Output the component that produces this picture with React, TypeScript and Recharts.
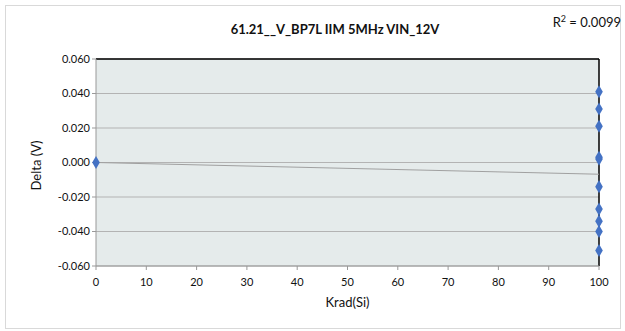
import { ComposedChart, Scatter, Line, XAxis, YAxis, ZAxis, CartesianGrid, ReferenceLine } from "recharts";

const doseKrad = [0, 100, 100, 100, 100, 100, 100, 100, 100, 100, 100];
const deltaV = [0.0, 0.041, 0.031, 0.021, 0.003, 0.002, -0.014, -0.027, -0.034, -0.04, -0.051];
const xTicks = [0, 10, 20, 30, 40, 50, 60, 70, 80, 90, 100];
const yTicks = [-0.06, -0.04, -0.02, 0, 0.02, 0.04, 0.06];

const points = doseKrad.map((x, i) => ({ x, y: deltaV[i] }));

// least squares trendline through the points
const n = points.length;
const mx = doseKrad.reduce((a, b) => a + b, 0) / n;
const my = deltaV.reduce((a, b) => a + b, 0) / n;
let sxy = 0;
let sxx = 0;
points.forEach((p) => {
  sxy += (p.x - mx) * (p.y - my);
  sxx += (p.x - mx) * (p.x - mx);
});
const slope = sxy / sxx;
const icpt = my - slope * mx;
const trend = [0, 100].map((x) => ({ x, t: icpt + slope * x }));

const FONT = "Lato, 'Open Sans', sans-serif";

export default function App() {
  return (
    <div style={{ position: "absolute", left: 0, top: 0, width: 625, height: 331, background: "#fff", fontFamily: FONT }}>
      <div style={{ position: "absolute", left: 5, top: 5, width: 614, height: 322, border: "1px solid #d9d9d9" }} />
      <div style={{ position: "absolute", left: 0, width: 670, top: 21, textAlign: "center", fontSize: 13, fontWeight: 700, color: "#111" }}>
        61.21__V_BP7L IIM 5MHz VIN_12V
      </div>
      <div style={{ position: "absolute", right: 4, top: 13, fontSize: 13, color: "#111" }}>
        R<sup style={{ fontSize: 9 }}>2</sup> = 0.0099
      </div>
      <div style={{ position: "absolute", left: 0, top: 0 }}>
        <ComposedChart width={625} height={331} margin={{ top: 59, right: 26, bottom: 37, left: 36 }}>
          <CartesianGrid fill="#e5ebeb" stroke="#b3b3b3" vertical={false} />
          <XAxis
            dataKey="x"
            type="number"
            domain={[0, 100]}
            ticks={xTicks}
            tick={{ fontSize: 11, fill: "#111", fontFamily: FONT }}
            tickSize={4}
            tickMargin={8}
            stroke="#999"
            height={28}
            label={{ value: "Krad(Si)", position: "insideBottom", offset: -13, fontSize: 13, fill: "#111", fontFamily: FONT }}
          />
          <YAxis
            dataKey="y"
            type="number"
            domain={[-0.06, 0.06]}
            ticks={yTicks}
            tickFormatter={(v: number) => v.toFixed(3)}
            tick={{ fontSize: 11, fill: "#111", fontFamily: FONT }}
            tickSize={4}
            stroke="#999"
            width={60}
            label={{ value: "Delta (V)", angle: -90, position: "insideLeft", offset: 0, dx: 0, dy: 28, fontSize: 13, fill: "#111", fontFamily: FONT }}
          />
          <ZAxis range={[50, 50]} />
          <ReferenceLine y={0.06} stroke="#000" strokeWidth={1.5} />
          <ReferenceLine x={100} stroke="#000" strokeWidth={1.5} />
          <Line data={trend} dataKey="t" stroke="#a0a0a0" strokeWidth={1} dot={false} isAnimationActive={false} />
          <Scatter data={points} fill="#4472c4" shape="diamond" isAnimationActive={false} />
        </ComposedChart>
      </div>
    </div>
  );
}
